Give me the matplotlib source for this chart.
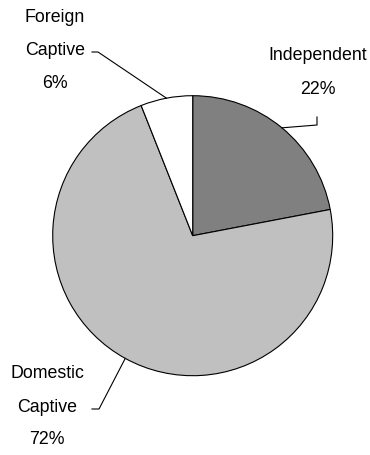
import numpy as np
import matplotlib
matplotlib.use("Agg")
import matplotlib.pyplot as plt

categories = ["Independent", "Domestic\nCaptive", "Foreign\nCaptive"]
values = [22, 72, 6]
colors = ["#808080", "#C0C0C0", "#FFFFFF"]

W, H = 370, 455
fig = plt.figure(figsize=(W / 100, H / 100), dpi=100)
ax = fig.add_axes([0, 0, 1, 1])

def Y(y):
    return H - y

cx, cy, r = 192.7, 235.7, 140
wedges, _ = ax.pie(values, colors=colors, startangle=90, counterclock=False,
                   center=(cx, Y(cy)), radius=r, frame=True,
                   wedgeprops=dict(edgecolor="black", linewidth=0.8))
ax.set_xlim(0, W)
ax.set_ylim(0, H)
ax.set_aspect("equal")
ax.axis("off")

font = dict(family=["Liberation Sans", "DejaVu Sans"], fontsize=12.8, color="black")

def anchor(w):
    a = np.deg2rad((w.theta1 + w.theta2) / 2)
    return cx + r * np.cos(a), Y(cy) + r * np.sin(a)

lw = 0.8
# Independent
ax0, ay0 = anchor(wedges[0])
ax.plot([ax0, 317, 317], [ay0, Y(125), Y(117)], color="black", lw=lw)
ax.text(317.5, Y(55), categories[0], ha="center", va="center", **font)
ax.text(318, Y(89), f"{values[0]}%", ha="center", va="center", **font)

# Domestic
ax1, ay1 = anchor(wedges[1])
ax.plot([ax1, 99, 92], [ay1, Y(409), Y(409)], color="black", lw=lw)
for i, line in enumerate(categories[1].split("\n") + [f"{values[1]}%"]):
    ax.text(47, Y(374 + 33 * i), line, ha="center", va="center", **font)

# Foreign
ax2, ay2 = anchor(wedges[2])
ax.plot([ax2, 98, 92], [ay2, Y(52), Y(52)], color="black", lw=lw)
for i, line in enumerate(categories[2].split("\n") + [f"{values[2]}%"]):
    ax.text(55, Y(17 + 33.5 * i), line, ha="center", va="center", **font)

fig.savefig("out.png", dpi=100, facecolor="white")
